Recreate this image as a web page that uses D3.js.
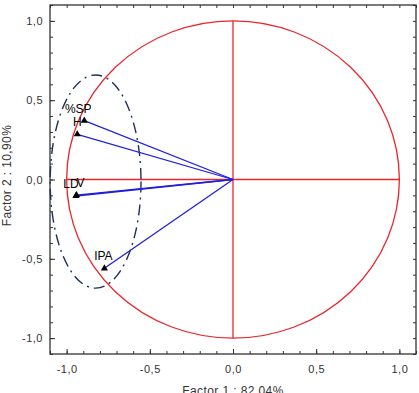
<!DOCTYPE html>
<html>
<head>
<meta charset="utf-8">
<script src="https://cdn.jsdelivr.net/npm/d3@7"></script>
<style>
  body { margin: 0; background: #fff; }
  text { font-family: "Liberation Sans", Arial, sans-serif; }
</style>
</head>
<body>
<svg id="chart" width="419" height="393"></svg>
<script>
// variable loadings on factor 1 / factor 2
var names = ["%SP", "H", "LD", "V", "IPA"];
var factor1 = [-0.894, -0.936, -0.944, -0.941, -0.773];
var factor2 = [0.371, 0.285, -0.104, -0.098, -0.560];

// grouping ellipse (centre x, centre y, radius x, radius y)
var groupEllipse = [-0.826, -0.013, 0.273, 0.672];

var majorTicks = [-1, -0.5, 0, 0.5, 1];
var tickLabels = ["-1,0", "-0,5", "0,0", "0,5", "1,0"];
var xTitle = "Factor 1 : 82,04%";
var yTitle = "Factor 2 : 10,90%";

var svg = d3.select("#chart");
// plot box (note: "top" is reserved on window)
var pLeft = 50, pRight = 416, pTop = 5, pBottom = 354;

var x = d3.scaleLinear().domain([-1.1, 1.1]).range([pLeft, pRight]);
var y = d3.scaleLinear().domain([-1.1, 1.1]).range([pBottom, pTop]);

var minor = d3.range(-11, 12).map(function(d) { return d / 10; });
var fmt = function(d) { return tickLabels[majorTicks.indexOf(d)]; };

// frame
svg.append("rect")
    .attr("x", pLeft).attr("y", pTop)
    .attr("width", pRight - pLeft).attr("height", pBottom - pTop)
    .attr("fill", "none").attr("stroke", "#333").attr("stroke-width", 1.3);

function styleAxis(g) {
  g.select(".domain").remove();
  g.selectAll("line").attr("stroke", "#333");
  g.selectAll("text").attr("fill", "#333").style("font-size", "11px")
      .style("letter-spacing", "0.5px");
}

// minor ticks, inside, all four sides
svg.append("g").attr("transform", "translate(0," + pBottom + ")")
    .call(d3.axisBottom(x).tickValues(minor).tickSize(-3).tickFormat(""))
    .call(styleAxis);
svg.append("g").attr("transform", "translate(0," + pTop + ")")
    .call(d3.axisTop(x).tickValues(minor).tickSize(-3).tickFormat(""))
    .call(styleAxis);
svg.append("g").attr("transform", "translate(" + pLeft + ",0)")
    .call(d3.axisLeft(y).tickValues(minor).tickSize(-3).tickFormat(""))
    .call(styleAxis);
svg.append("g").attr("transform", "translate(" + pRight + ",0)")
    .call(d3.axisRight(y).tickValues(minor).tickSize(-3).tickFormat(""))
    .call(styleAxis);

// major ticks with labels
svg.append("g").attr("transform", "translate(0," + pBottom + ")")
    .call(d3.axisBottom(x).tickValues(majorTicks).tickSize(-5).tickPadding(11).tickFormat(fmt))
    .call(styleAxis);
svg.append("g").attr("transform", "translate(" + pLeft + ",0)")
    .call(d3.axisLeft(y).tickValues(majorTicks).tickSize(-5).tickPadding(7).tickFormat(fmt))
    .call(styleAxis);

// unit circle and cross
var red = "#e8262c";
svg.append("ellipse")
    .attr("cx", x(0)).attr("cy", y(0))
    .attr("rx", x(1) - x(0)).attr("ry", y(0) - y(1))
    .attr("fill", "none").attr("stroke", red).attr("stroke-width", 1.3);
svg.append("line")
    .attr("x1", x(-1)).attr("x2", x(1)).attr("y1", y(0)).attr("y2", y(0))
    .attr("stroke", red).attr("stroke-width", 1.3);
svg.append("line")
    .attr("x1", x(0)).attr("x2", x(0)).attr("y1", y(1)).attr("y2", y(-1))
    .attr("stroke", red).attr("stroke-width", 1.3);

// dashed group ellipse
svg.append("ellipse")
    .attr("cx", x(groupEllipse[0])).attr("cy", y(groupEllipse[1]))
    .attr("rx", x(groupEllipse[2]) - x(0)).attr("ry", y(0) - y(groupEllipse[3]))
    .attr("fill", "none").attr("stroke", "#1f2d5e").attr("stroke-width", 1.4)
    .attr("stroke-dasharray", "11,5,2,5");

var pts = names.map(function(n, i) { return {name: n, f1: factor1[i], f2: factor2[i]}; });

// vectors
svg.selectAll(".vec").data(pts).enter().append("line")
    .attr("class", "vec")
    .attr("x1", x(0)).attr("y1", y(0))
    .attr("x2", function(d) { return x(d.f1); })
    .attr("y2", function(d) { return y(d.f2); })
    .attr("stroke", "#1f1fe0").attr("stroke-width", 1.3);

svg.selectAll(".pt").data(pts).enter().append("path")
    .attr("class", "pt")
    .attr("d", d3.symbol().type(d3.symbolTriangle).size(22))
    .attr("transform", function(d) { return "translate(" + x(d.f1) + "," + y(d.f2) + ")"; })
    .attr("fill", "#000");

var labelShift = {"%SP": -6, "H": 0, "LD": -5, "V": 4, "IPA": -1};
svg.selectAll(".lbl").data(pts).enter().append("text")
    .attr("class", "lbl")
    .attr("x", function(d) { return x(d.f1) + labelShift[d.name]; })
    .attr("y", function(d) { return y(d.f2) - 8; })
    .attr("text-anchor", "middle")
    .style("font-size", "12px")
    .attr("fill", "#000")
    .text(function(d) { return d.name; });

// axis titles
svg.append("text")
    .attr("x", x(0)).attr("y", 395)
    .attr("text-anchor", "middle")
    .style("font-size", "12px").style("letter-spacing", "0.4px")
    .attr("fill", "#333")
    .text(xTitle);
svg.append("text")
    .attr("transform", "translate(11," + ((pTop + pBottom) / 2 - 4) + ") rotate(-90)")
    .attr("text-anchor", "middle")
    .style("font-size", "12px").style("letter-spacing", "0.4px")
    .attr("fill", "#333")
    .text(yTitle);
</script>
</body>
</html>
